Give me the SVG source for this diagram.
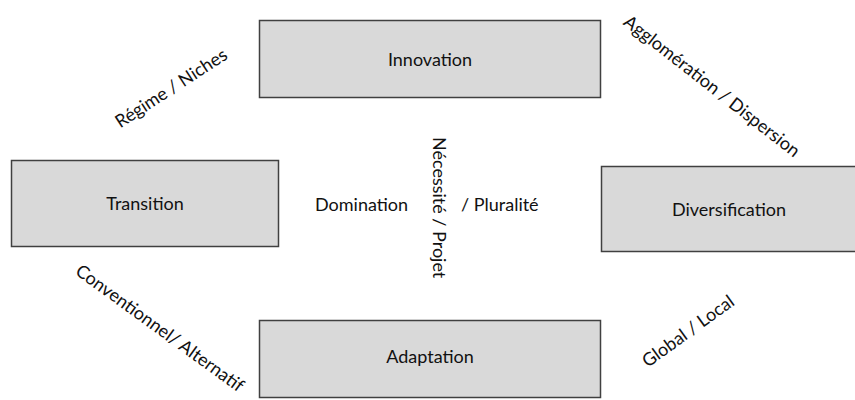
<svg xmlns="http://www.w3.org/2000/svg" width="855" height="400" viewBox="0 0 855 400">
<style>
.box{fill:#d9d9d9;stroke:#404040;stroke-width:1.5}
text{font-family:Lato,"Liberation Sans",sans-serif;font-size:18px;fill:#111111}
.c{text-anchor:middle}
</style>
<rect width="855" height="400" fill="#ffffff"/>
<g id="innovation"><rect class="box" x="259.5" y="20.5" width="341" height="77"/><text class="c" x="430" y="66">Innovation</text></g>
<g id="transition"><rect class="box" x="11.5" y="160.5" width="267" height="86"/><text class="c" x="145" y="210">Transition</text></g>
<g id="diversification"><rect class="box" x="601.5" y="166.5" width="256" height="85"/><text class="c" x="729" y="216">Diversification</text></g>
<g id="adaptation"><rect class="box" x="259.5" y="320.5" width="341" height="77"/><text class="c" x="430" y="363">Adaptation</text></g>
<g id="connectors"></g>
<g id="labels">
<text x="315" y="211">Domination</text>
<text x="461" y="211">/ Pluralité</text>
<text x="433" y="137" transform="rotate(90 433 137)">Nécessité / Projet</text>
<text class="c" x="171" y="88" dy="0.35em" transform="rotate(-33 171 88)">Régime / Niches</text>
<text class="c" x="712" y="86" dy="0.35em" transform="rotate(38 712 86)">Agglomération / Dispersion</text>
<text class="c" x="160" y="328" dy="0.35em" transform="rotate(36 160 328)">Conventionnel/ Alternatif</text>
<text class="c" x="688" y="331" dy="0.35em" transform="rotate(-36 688 331)">Global / Local</text>
</g>
</svg>
